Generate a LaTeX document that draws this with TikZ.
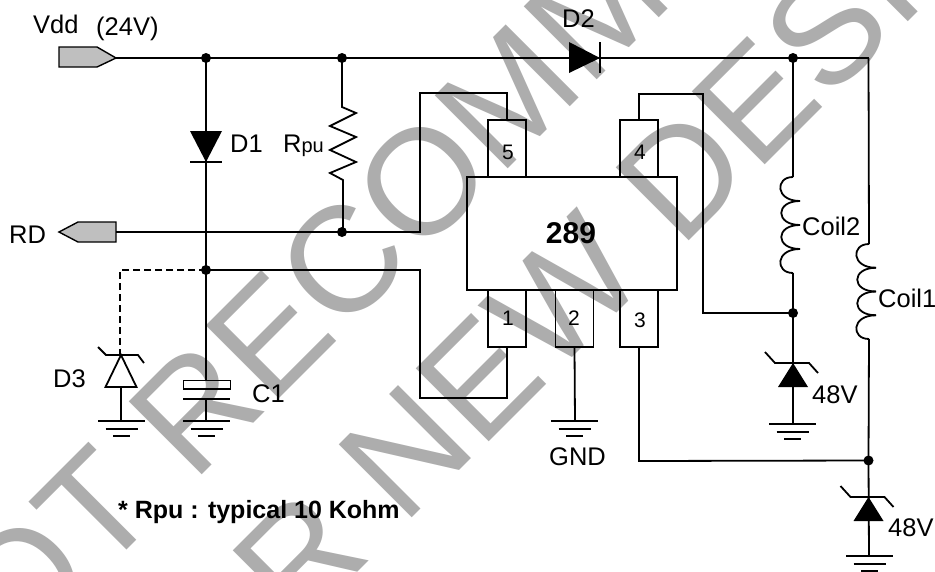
\documentclass[tikz,border=0pt]{standalone}
\usepackage{fontspec}
\setmainfont{Liberation Sans}
\definecolor{wmgrey}{HTML}{ADADAD}
\definecolor{tabgrey}{HTML}{BFBFBF}
\newcommand{\mycoil}[3]{%
  \foreach \i in {0,1,2,3}{%
    \pgfmathsetmacro{\ya}{#2+\i*#3}%
    \pgfmathsetmacro{\yb}{#2+(\i+1)*#3}%
    \pgfmathsetmacro{\xa}{\i==0 ? #1 : #1+7}%
    \pgfmathsetmacro{\xb}{\i==3 ? #1 : #1+7}%
    \pgfmathsetmacro{\xc}{#1-18}%
    \draw[wire] (\xa,\ya) .. controls (\xc,\ya) and (\xc,\yb) .. (\xb,\yb);
  }%
}
\tikzset{
  wire/.style={draw=black,line width=1.8pt,line join=miter},
  jdot/.style={circle,fill=black,draw=none,inner sep=0pt,minimum size=10pt},
  pinbox/.style={rectangle,draw=black,line width=1.8pt,inner sep=0pt,minimum width=38pt,minimum height=57pt},
  txt/.style={anchor=base west,inner sep=0pt,font=\fontsize{25.5}{29}\selectfont},
  pinnum/.style={anchor=base,inner sep=0pt,font=\fontsize{21}{24}\selectfont},
  wmark/.style={anchor=base west,rotate=45,inner sep=0pt,text=wmgrey,font=\fontsize{150}{170}\selectfont},
  gnd/.pic={\draw[wire] (-23.5,0)--(23.5,0) (-16,8)--(16,8) (-8.5,15)--(8.5,15);},
  zenerf/.pic={
    \fill[black] (0,0)--(15,24)--(-15,24)--cycle;
    \draw[wire] (-28,-11)--(-18,0)--(16,0)--(25,10);},
  zenero/.pic={
    \draw[wire] (0,0)--(15.5,32)--(-15.5,32)--cycle;
    \draw[wire] (-23,-8)--(-15,0)--(17,0)--(23,8);}
}
\begin{document}
\begin{tikzpicture}[x=1pt,y=-1pt]
\useasboundingbox (0,0) rectangle (935,571);
\begin{scope}
\clip (0,0) rectangle (935,571);
\fill[white] (0,0) rectangle (935,571);
\node[wmark] (wm1) at (-60,737) {NOT RECOMMENDED};
\node[wmark] (wm2) at (150,780) {FOR NEW DESIGNS};

% connectors' nodes
\node[jdot] (ja) at (206,58) {};
\node[jdot] (jb) at (342,58) {};
\node[jdot] (jc) at (793,58) {};
\coordinate (jd) at (868.5,58);
\node[jdot] (je) at (342,232) {};
\node[jdot] (jf) at (206,270) {};
\node[jdot] (jg) at (793,313) {};
\node[jdot] (jh) at (868.5,460.5) {};

% chip and pins
\node[rectangle,draw=black,line width=1.8pt,inner sep=0pt,minimum width=210pt,minimum height=113pt] (chip) at (572,233.5) {};
\node[pinbox] (p5) at (507,148.5) {};
\node[pinbox] (p4) at (639,148.5) {};
\node[pinbox] (p1) at (507,318.5) {};
\node[pinbox] (p2) at (574.5,318.5) {};
\node[pinbox] (p3) at (639,318.5) {};
\node[pinnum] (n5) at (508,159) {5};
\node[pinnum] (n4) at (640,159) {4};
\node[pinnum] (n1) at (508,325) {1};
\node[pinnum] (n2) at (574,325) {2};
\node[pinnum] (n3) at (640,327) {3};
\node[anchor=base,inner sep=0pt,font=\fontsize{30}{34}\selectfont\bfseries] (chipname) at (571,243) {289};

% terminals
\draw[wire,line width=1.4pt,fill=tabgrey] (59,47)--(97,47)--(116,58)--(97,67)--(59,67)--cycle;
\coordinate (vdd) at (116,58);
\draw[wire,line width=1.4pt,fill=tabgrey] (116,222)--(116,242)--(78,242)--(59,232)--(78,222)--cycle;
\coordinate (rd) at (116,232);

% wires
\draw[wire] (vdd)--(ja.center)--(jb.center)--(jc.center)--(jd);
\draw[wire] (ja.center)--(206,380);
\draw[wire] (rd)--(je.center)--(420,232)--(420,93)--(507,93)--(p5.north);
\draw[wire] (p4.north)--(639,94)--(703,94)--(703,313)--(jg.center);
\draw[wire] (jf.center)--(420,270)--(420,398)--(507,398)--(p1.south);
\draw[wire] (p2.south)--(575,421);
\draw[wire] (p3.south)--(639,461)--(jh.center);

% D1
\fill[black] (190,131)--(222,131)--(206,162)--cycle;
\draw[wire] (190,162)--(222,162);
% D2
\fill[black] (569,42)--(569,73)--(600,58)--cycle;
\draw[wire] (600,42)--(600,73);

% Rpu
\draw[wire] (jb.center)--(342,107)--(356,113)--(330,126)--(356,137)--(330,150)--(356,162)--(330,173)--(343,180)--(343,232)--(je.center);

% coils
\draw[wire] (jc.center)--(793,177);
\mycoil{793}{177}{24}
\draw[wire] (793,273)--(jg.center)--(793,423);
\draw[wire] (jd)--(869,244);
\mycoil{869}{244}{23.75}
\draw[wire] (869,339)--(jh.center)--(869,556);

% zeners
\pic at (793,363) {zenerf};
\pic at (868.5,497) {zenerf};
\draw[wire,dash pattern=on 7pt off 4pt,line width=2.4pt] (jf.center)--(120,270)--(120,355);
\pic at (121,355) {zenero};
\draw[wire] (121,387)--(121,421);

% capacitor
\draw[wire] (183.5,380.5) rectangle (230.5,389);
\draw[wire] (183,399)--(230,399);
\draw[wire] (206,399)--(206,421);

% grounds
\pic at (121.5,421) {gnd};
\pic at (206.5,421) {gnd};
\pic at (574.5,421) {gnd};
\pic at (792.5,424) {gnd};
\pic at (869.5,556) {gnd};

% text
\node[txt] (tvdd) at (33,33) {Vdd};
\node[txt] (tv24) at (96,35) {(24V)};
\node[txt] (td2) at (562,27) {D2};
\node[txt] (td1) at (230,152) {D1};
\node[txt] (trpu) at (283,152) {R{\fontsize{20}{23}\selectfont pu}};
\node[txt] (trd) at (9,243) {RD};
\node[txt] (tc2) at (802,235) {Coil2};
\node[txt] (tc1) at (878,307) {Coil1};
\node[txt] (t48a) at (812,403) {48V};
\node[txt] (t48b) at (888,536) {48V};
\node[txt] (tgnd) at (549,465) {GND};
\node[txt] (td3) at (53,387) {D3};
\node[txt] (tc1b) at (252,402) {C1};
\node[txt,font=\fontsize{25}{29}\selectfont\bfseries] (tnote) at (118,518) {* Rpu : typical 10 Kohm};
\end{scope}
\end{tikzpicture}
\end{document}
